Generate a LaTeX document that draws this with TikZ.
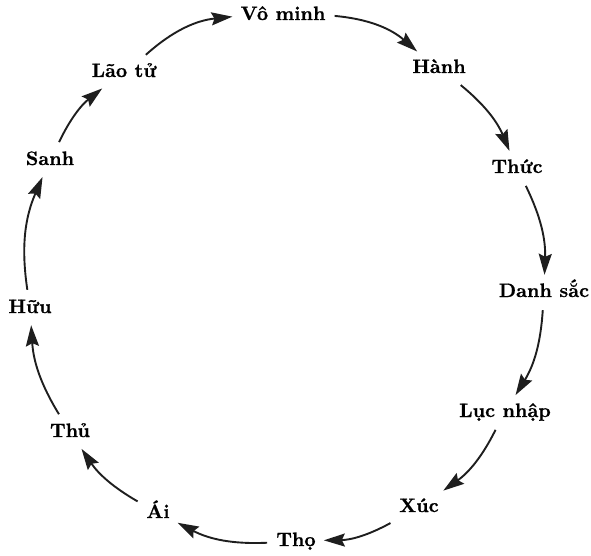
\documentclass[tikz,border=0pt]{standalone}
\usepackage{fontspec}
\newfontfamily\lblfont{lmroman10-bold.otf}[FakeBold=0.7]
\usetikzlibrary{arrows.meta}
\tikzset{
  lbl/.style={font=\lblfont\fontsize{19.5}{22}\selectfont, text height=14pt, text depth=4pt, inner sep=6pt, anchor=base},
  arr/.style={line width=1.9pt, draw={rgb,255:red,30;green,30;blue,30}, -{Stealth[length=21pt,width=13pt,inset=3pt]}, shorten <=3pt, shorten >=2pt}
}
\begin{document}
\begin{tikzpicture}[x=1pt,y=1pt]
\useasboundingbox (0,0) rectangle (591,555);
\node[lbl] (vm)  at (283,535) {Vô minh};
\node[lbl] (ha)  at (439,482) {Hành};
\node[lbl] (th)  at (517,382) {Thức};
\node[lbl] (ds)  at (544,258) {Danh sắc};
\node[lbl] (ln)  at (505,138) {Lục nhập};
\node[lbl] (xu)  at (419,43)  {Xúc};
\node[lbl] (tho) at (296,9)   {Thọ};
\node[lbl] (ai)  at (158,37)  {Ái};
\node[lbl] (thu) at (70,118)  {Thủ};
\node[lbl] (hu)  at (30,242)  {Hữu};
\node[lbl] (sa)  at (50,390)  {Sanh};
\node[lbl] (lt)  at (124,478) {Lão tử};
\draw[arr] (vm)  to[bend left=18] (ha);
\draw[arr] (ha)  to[bend left=14] (th);
\draw[arr] (th)  to[bend left=14] (ds);
\draw[arr] (ds)  to[bend left=14] (ln);
\draw[arr] (ln)  to[bend left=14] (xu);
\draw[arr] (xu)  to[bend left=14] (tho);
\draw[arr] (tho) to[bend left=15] (ai);
\draw[arr] (ai)  to[bend left=13] (thu);
\draw[arr] (thu) to[bend left=14] (hu);
\draw[arr] (hu)  to[bend left=16] (sa);
\draw[arr] (sa)  to[bend left=13] (lt);
\draw[arr] (lt)  to[bend left=18] (vm);
\end{tikzpicture}
\end{document}
